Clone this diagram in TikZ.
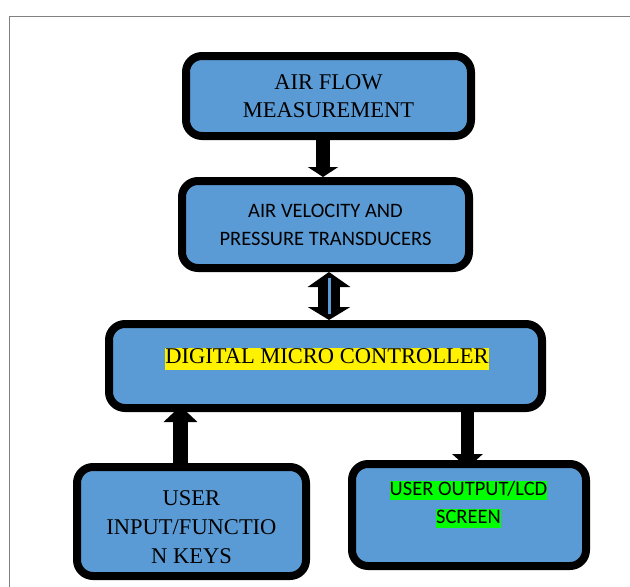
\documentclass[tikz,border=0pt]{standalone}
\usepackage{fontspec}
\setmainfont{Liberation Serif}
\newfontfamily\calfont{Carlito}
\usetikzlibrary{arrows.meta}
\definecolor{boxblue}{HTML}{5B9BD5}
\definecolor{hlgreen}{HTML}{00FF00}
\newcommand{\hlbox}[4]{{\setlength{\fboxsep}{0pt}\colorbox{#1}{\rule[-#3]{0pt}{#2}#4}}}
\begin{document}
\begin{tikzpicture}[x=1pt,y=-1pt,
  blk/.style={draw=black, fill=boxblue, line width=8pt, rounded corners=16pt, inner sep=0pt, align=center},
  serif/.style={font=\fontsize{22.5}{28}\selectfont},
  sans/.style={font=\calfont\fontsize{20.5}{28}\selectfont}]
\useasboundingbox (0,0) rectangle (630,587);
\draw[gray, line width=1pt] (9,590) -- (9,16) -- (633,16);

\node[blk, serif, minimum width=285pt, minimum height=80pt] (b1) at (328.5,96) {AIR FLOW\\MEASUREMENT};
\node[blk, sans, minimum width=287pt, minimum height=87pt] (b2) at (325.5,224.5) {AIR VELOCITY AND\\PRESSURE TRANSDUCERS};
\node[blk, minimum width=433pt, minimum height=84pt] (b3) at (325.5,366) {};
\node[blk, serif, minimum width=229pt, minimum height=109pt] (b4) at (191.5,521.5) {\rule{0pt}{26pt}USER\\[1pt]INPUT/FUNCTIO\\[1pt]N KEYS};
\node[blk, minimum width=234pt, minimum height=102pt] (b5) at (469,515) {};

\node[serif, anchor=base, inner sep=0pt] (t3) at (327,363) {\hlbox{yellow}{20pt}{7pt}{DIGITAL MICRO CONTROLLER}};
\node[sans, anchor=north, inner sep=0pt, align=center] (t5) at (468.5,481) {\hlbox{hlgreen}{19pt}{5pt}{USER OUTPUT/LCD}\\\hlbox{hlgreen}{19pt}{5pt}{SCREEN}};

% arrow b1 -> b2
\draw[line width=14pt, -{Triangle[width=30pt,length=10pt]}] ([xshift=-5.5pt]b1.south) -- ([xshift=-5.5pt]b1.south |- b2.north);
% double arrow b2 <-> b3
\draw[line width=22pt, {Triangle[width=42pt,length=15pt]}-{Triangle[width=42pt,length=13pt]}] ([xshift=3.5pt]b2.south) -- ([xshift=3.5pt]b2.south |- b3.north);
\draw[boxblue, line width=3pt] ([xshift=4pt,yshift=-6pt]b2.south) -- ([xshift=4pt,yshift=6pt]b2.south |- b3.north);
% arrow b4 -> b3
\draw[line width=15pt, -{Triangle[width=33pt,length=16pt]}] ([xshift=-11pt]b4.north) -- ([xshift=-11pt,yshift=6pt]b4.north |- b3.south);
% arrow b3 -> b5
\draw[line width=13pt, -{Triangle[width=30pt,length=14pt]}] ([xshift=-1.5pt]b5.north |- b3.south) -- ([xshift=-1.5pt,yshift=-8pt]b5.north);
\end{tikzpicture}
\end{document}
